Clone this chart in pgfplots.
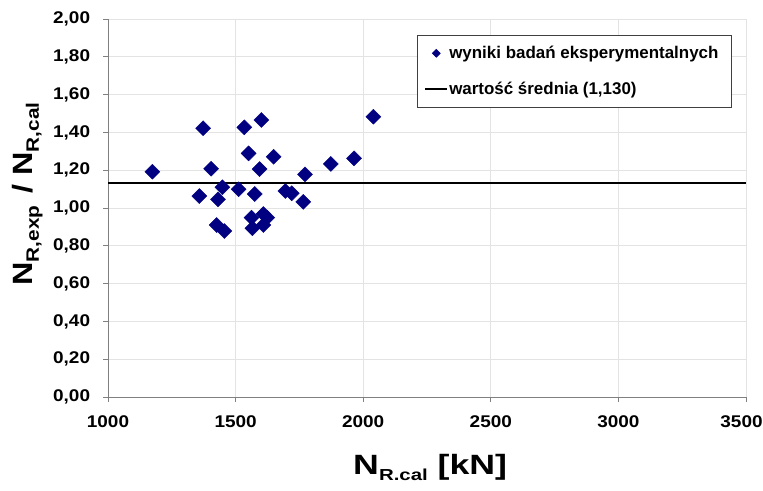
\documentclass[border=0pt]{standalone}
\usepackage{pgfplots}
\pgfplotsset{compat=1.18}
\usepackage{fontspec}
\setmainfont{Liberation Sans}
\definecolor{navy}{RGB}{0,0,128}
\begin{document}
\begin{tikzpicture}
\useasboundingbox (0,0) rectangle (763bp,491bp);
\begin{axis}[
  at={(108bp,94bp)}, anchor=south west,
  scale only axis, width=638bp, height=378bp,
  xmin=1000, xmax=3500, ymin=0, ymax=2,
  xtick={1000,1500,2000,2500,3000,3500},
  xticklabels={1000,1500,2000,2500,3000,{3500\hspace*{8bp}}},
  ytick={0,0.2,0.4,0.6,0.8,1.0,1.2,1.4,1.6,1.8,2.0},
  axis x line*=bottom, axis y line*=left,
  axis line style={draw=black!50, line width=0.8bp, -},
  tick align=outside, major tick length=5bp,
  every tick/.style={draw=black!50, line width=0.8bp},
  grid=major, major grid style={draw=black!11, line width=0.7bp},
  /pgf/number format/assume math mode=true,
  tick label style={font=\fontsize{17}{17}\selectfont\bfseries, xscale=1.12},
  yticklabel style={xshift=-8bp, /pgf/number format/fixed, /pgf/number format/fixed zerofill, /pgf/number format/precision=2, /pgf/number format/use comma},
  xticklabel style={yshift=-10bp},
  xlabel={\scalebox{1.28}[1]{N\raisebox{-6bp}{\fontsize{16}{16}\selectfont R.cal} [kN]}},
  xlabel style={font=\fontsize{28}{28}\selectfont\bfseries, at={(axis description cs:0.505,-0.2063)}, anchor=base},
  ylabel={\scalebox{1.16}[1]{N\raisebox{-6bp}{\fontsize{18}{18}\selectfont R,exp}\hspace{10bp}/\hspace{8bp}N\raisebox{-6bp}{\fontsize{18}{18}\selectfont R,cal}}},
  ylabel style={font=\fontsize{28}{28}\selectfont\bfseries, at={(axis description cs:-0.1176,0.537)}, anchor=base},
  legend cell align=left,
  legend style={at={(axis description cs:0.484,0.958)}, anchor=north west, draw=black!75, line width=1bp,
    font=\fontsize{17}{17}\selectfont\bfseries, inner xsep=7bp, inner ysep=10bp, row sep=20bp, nodes={inner sep=1bp}},
]
\addplot[only marks, mark=square*, mark size=5.3bp, mark options={rotate=45, fill=navy, draw=navy},
  legend image code/.code={\draw plot[only marks, mark=square*, mark size=2.6bp, mark options={rotate=45,fill=navy,draw=navy}] coordinates {(11bp,0bp)};}]
coordinates {
(1174,1.192) (1373,1.422) (1404,1.208) (1358,1.063) (1448,1.110)
(1431,1.046) (1426,0.910) (1456,0.878) (1534,1.427) (1601,1.466)
(1551,1.289) (1649,1.271) (1594,1.206) (1512,1.099) (1575,1.074)
(1562,0.949) (1566,0.893) (1609,0.968) (1624,0.949) (1609,0.910)
(1695,1.090) (1720,1.078) (1772,1.178) (1765,1.032) (1873,1.233)
(1964,1.263) (2040,1.483)
};
\addlegendentry{wyniki badań eksperymentalnych\hspace*{5bp}}
\addplot[black, line width=2bp, legend image code/.code={\draw[black, line width=2bp] (0bp,0bp) -- (22bp,0bp);}]
coordinates {(1000,1.13) (3500,1.13)};
\addlegendentry{wartość średnia (1,130)}
\end{axis}
\end{tikzpicture}
\end{document}
